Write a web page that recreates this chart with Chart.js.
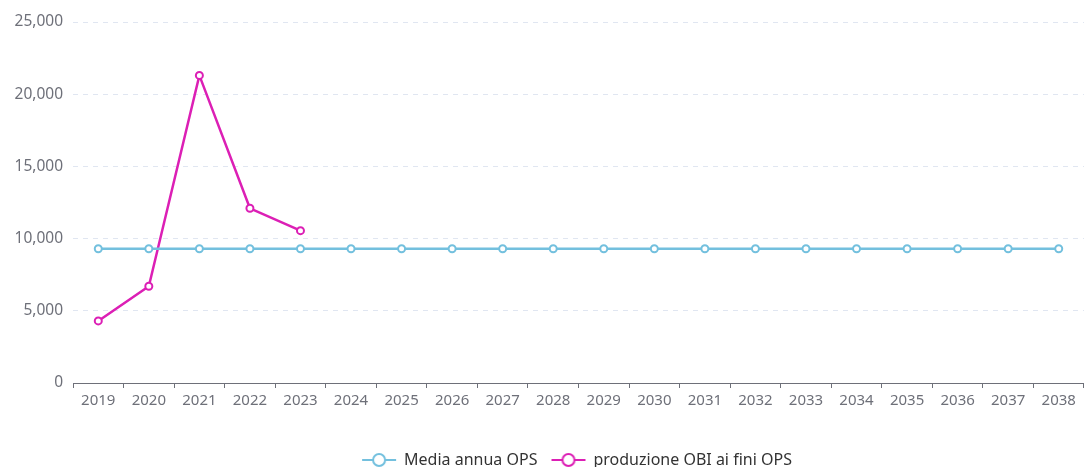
<!DOCTYPE html>
<html>
<head>
<meta charset="utf-8">
<script src="https://cdn.jsdelivr.net/npm/chart.js@4/dist/chart.umd.min.js"></script>
<style>
  html, body { margin: 0; padding: 0; background: #fff; overflow: hidden; }
  #grafico { display: block; }
</style>
</head>
<body>
<canvas id="grafico" width="1090" height="467"></canvas>
<script>
const anni = ['2019', '2020', '2021', '2022', '2023', '2024', '2025', '2026', '2027', '2028',
  '2029', '2030', '2031', '2032', '2033', '2034', '2035', '2036', '2037', '2038'];

const mediaAnnuaOps = [9300, 9300, 9300, 9300, 9300, 9300, 9300, 9300, 9300, 9300,
  9300, 9300, 9300, 9300, 9300, 9300, 9300, 9300, 9300, 9300];

const produzioneObi = [4300, 6700, 21300, 12100, 10550];

const coloreMedia = '#73c0de';
const coloreProduzione = '#dc1fb5';
const coloreTesto = '#6e7079';
const font = '"Noto Sans", sans-serif';

// icona legenda: linea con cerchio al centro
function iconaLegenda(colore) {
  const c = document.createElement('canvas');
  c.width = 36;
  c.height = 16;
  const ctx = c.getContext('2d');
  ctx.strokeStyle = colore;
  ctx.lineWidth = 2;
  ctx.beginPath();
  ctx.moveTo(1, 8);
  ctx.lineTo(35, 8);
  ctx.stroke();
  ctx.beginPath();
  ctx.arc(18, 8, 6, 0, Math.PI * 2);
  ctx.fillStyle = '#fff';
  ctx.fill();
  ctx.stroke();
  return c;
}

const icone = [iconaLegenda(coloreMedia), iconaLegenda(coloreProduzione)];

// sposta la legenda un po' a destra come nell'originale
const spostaLegenda = {
  id: 'spostaLegenda',
  afterLayout(chart) {
    chart.legend.left += 64;
  }
};

new Chart(document.getElementById('grafico'), {
  type: 'line',
  data: {
    labels: anni,
    datasets: [
      {
        label: 'Media annua OPS',
        data: mediaAnnuaOps,
        borderColor: coloreMedia,
        backgroundColor: coloreMedia,
        pointBackgroundColor: '#fff',
        pointBorderColor: coloreMedia,
        pointRadius: 3.5,
        pointBorderWidth: 2,
        borderWidth: 2.5,
        tension: 0
      },
      {
        label: 'produzione OBI ai fini OPS',
        data: produzioneObi,
        borderColor: coloreProduzione,
        backgroundColor: coloreProduzione,
        pointBackgroundColor: '#fff',
        pointBorderColor: coloreProduzione,
        pointRadius: 3.5,
        pointBorderWidth: 2,
        borderWidth: 2.5,
        tension: 0
      }
    ]
  },
  plugins: [spostaLegenda],
  options: {
    responsive: false,
    animation: false,
    devicePixelRatio: 1,
    layout: { padding: { top: 22, right: 0, bottom: -11, left: 0 } },
    plugins: {
      tooltip: { enabled: false },
      legend: {
        position: 'bottom',
        labels: {
          usePointStyle: true,
          pointStyleWidth: 34,
          padding: 14,
          color: '#333',
          font: { family: font, size: 16 },
          generateLabels: chart => chart.data.datasets.map((ds, i) => ({
            text: ds.label,
            pointStyle: icone[i],
            fillStyle: '#fff',
            strokeStyle: ds.borderColor,
            lineWidth: 0,
            hidden: false,
            datasetIndex: i,
            fontColor: '#333'
          }))
        }
      }
    },
    scales: {
      x: {
        offset: true,
        grid: {
          offset: true,
          drawOnChartArea: false,
          drawTicks: true,
          tickLength: 5,
          color: coloreTesto
        },
        border: { display: true, color: coloreTesto, width: 1 },
        ticks: {
          color: coloreTesto,
          padding: 4,
          maxRotation: 0,
          autoSkip: false,
          font: { family: font, size: 15 }
        },
        afterFit: scale => { scale.height = 55; }
      },
      y: {
        min: 0,
        max: 25000,
        grid: {
          color: '#e0e6f1',
          drawTicks: false,
          lineWidth: 1
        },
        border: { display: false, dash: [5, 5] },
        ticks: {
          stepSize: 5000,
          color: coloreTesto,
          padding: 10,
          font: { family: font, size: 15.5 }
        },
        afterFit: scale => { scale.width = 73; }
      }
    }
  }
});
</script>
</body>
</html>
